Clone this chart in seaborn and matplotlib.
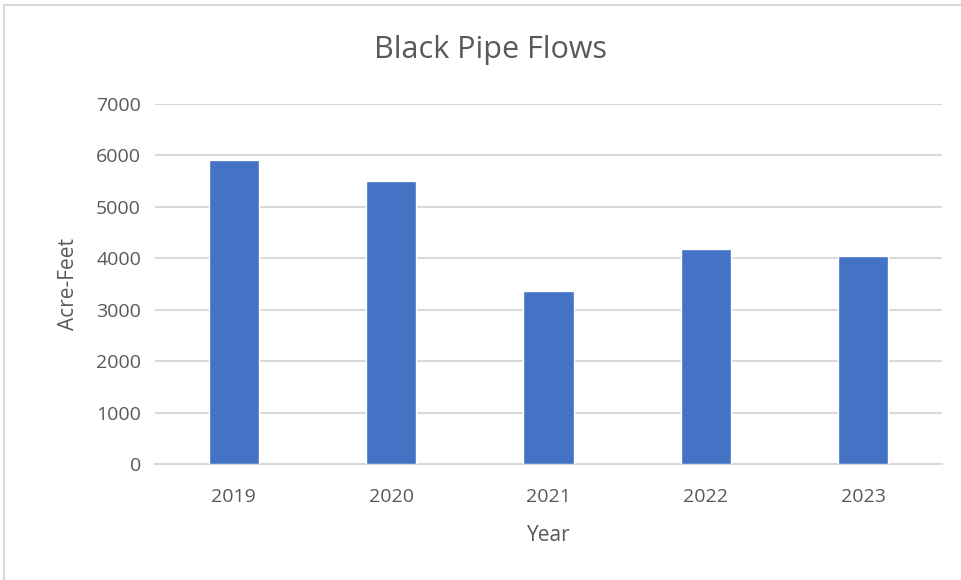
import matplotlib
matplotlib.use("Agg")
import matplotlib.pyplot as plt
import seaborn as sns
import pandas as pd
from matplotlib.patches import Rectangle

years = ["2019", "2020", "2021", "2022", "2023"]
flows = [5920, 5510, 3370, 4185, 4035]
yticks = [0, 1000, 2000, 3000, 4000, 5000, 6000, 7000]

df = pd.DataFrame({"Year": years, "Acre-Feet": flows})

sns.set_style("white")
plt.rcParams["font.family"] = ["Open Sans", "DejaVu Sans"]
text_color = "#595959"

fig = plt.figure(figsize=(9.61, 5.8), dpi=100)
ax = fig.add_axes([155 / 961, 1 - 464 / 580, 787 / 961, 360 / 580])

sns.barplot(data=df, x="Year", y="Acre-Feet", color="#4472C4", width=0.32,
            saturation=1, ax=ax, zorder=3)

ax.set_ylim(0, 7000)
ax.set_xlim(-0.5, 4.5)
ax.set_yticks(yticks)
ax.yaxis.grid(True, color="#d9d9d9", linewidth=1.5, zorder=0)
ax.set_axisbelow(True)
for s in ["top", "right", "left"]:
    ax.spines[s].set_visible(False)
ax.spines["bottom"].set_color("#d9d9d9")
ax.spines["bottom"].set_linewidth(1.5)
ax.tick_params(axis="both", length=0, labelsize=14, colors=text_color)
ax.tick_params(axis="y", pad=10)
ax.tick_params(axis="x", pad=17)

ax.set_xlabel("Year", fontsize=15, color=text_color, labelpad=14)
ax.set_ylabel("Acre-Feet", fontsize=15, color=text_color, labelpad=12)
fig.text(491 / 961, 1 - 50 / 580, "Black Pipe Flows", ha="center", va="center",
         fontsize=22, color=text_color)

# chart frame
fig.patches.append(Rectangle((4 / 961, -0.1), 1.2, (1 - 5 / 580) + 0.1,
                             transform=fig.transFigure, fill=False,
                             edgecolor="#d9d9d9", linewidth=1.5))

fig.savefig("out.png", dpi=100)
